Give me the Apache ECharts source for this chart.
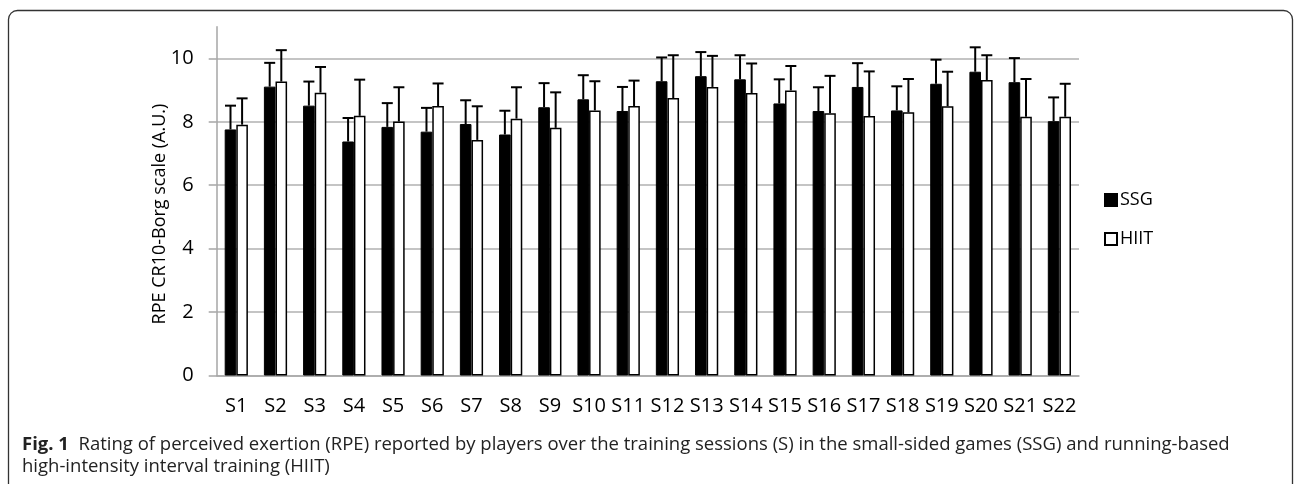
<!DOCTYPE html>
<html>
<head>
<meta charset="utf-8">
<script src="https://cdn.jsdelivr.net/npm/echarts@6/dist/echarts.min.js"></script>
<style>html,body{margin:0;padding:0;background:#fff;}#c{width:1295px;height:484px;}</style>
</head>
<body>
<div id="c"></div>
<script>
const categories = ['S1','S2','S3','S4','S5','S6','S7','S8','S9','S10','S11','S12','S13','S14','S15','S16','S17','S18','S19','S20','S21','S22'];
const ssgMean = [7.76,9.11,8.51,7.38,7.84,7.69,7.93,7.60,8.46,8.71,8.34,9.28,9.44,9.34,8.58,8.34,9.10,8.36,9.20,9.58,9.25,8.02];
const ssgSD   = [0.75,0.75,0.76,0.74,0.75,0.75,0.75,0.75,0.76,0.76,0.76,0.75,0.76,0.76,0.76,0.75,0.75,0.76,0.76,0.77,0.76,0.75];
const hiitMean = [7.91,9.27,8.92,8.19,8.01,8.50,7.43,8.10,7.81,8.36,8.50,8.75,9.10,8.91,8.99,8.27,8.18,8.30,8.49,9.32,8.16,8.16];
const hiitSD   = [0.83,0.99,0.81,1.14,1.08,0.71,1.06,0.99,1.12,0.92,0.80,1.35,0.98,0.93,0.77,1.18,1.41,1.05,1.09,0.78,1.19,1.04];
const yTicks = [0,2,4,6,8,10];
const yTitle = 'RPE CR10-Borg scale (A.U.)';

const BW = 11.6;
const font = 'Open Sans';

function errSeries(name, mean, sd, dir) {
  return {
    name: name,
    type: 'custom',
    z: 5,
    data: mean.map((m, i) => [i, m, sd[i]]),
    renderItem: function (params, api) {
      const i = api.value(0), m = api.value(1), s = api.value(2);
      const p0 = api.coord([i, m]);
      const p1 = api.coord([i, m + s]);
      const x = p0[0] + dir * BW / 2;
      const half = 5.5;
      return {
        type: 'group',
        children: [
          { type: 'line', shape: { x1: x, y1: p0[1], x2: x, y2: p1[1] }, style: { stroke: '#000', lineWidth: 2 } },
          { type: 'line', shape: { x1: x - half, y1: p1[1], x2: x + half, y2: p1[1] }, style: { stroke: '#000', lineWidth: 2 } }
        ]
      };
    }
  };
}

const chart = echarts.init(document.getElementById('c'));
chart.setOption({
  animation: false,
  textStyle: { fontFamily: font },
  grid: { left: 216.7, right: 216, top: 26.7, bottom: 108.5 },
  legend: {
    data: ['SSG', 'HIIT'],
    orient: 'vertical',
    left: 1099,
    top: 186,
    icon: 'rect',
    itemWidth: 12,
    itemHeight: 12,
    itemGap: 21,
    textStyle: { fontSize: 18, color: '#000', fontFamily: font, padding: [0, 0, 0, -2] }
  },
  xAxis: {
    type: 'category',
    data: categories,
    axisLine: { lineStyle: { color: '#a6a6a6', width: 1.5 } },
    axisTick: { length: 6, lineStyle: { color: '#a6a6a6', width: 1.5 } },
    axisLabel: { fontSize: 20, color: '#000', margin: 21, interval: 0, fontFamily: font }
  },
  yAxis: {
    type: 'value',
    min: 0,
    max: 11,
    interval: 2,
    axisLine: { show: true, lineStyle: { color: '#a6a6a6', width: 1.5 } },
    axisTick: { show: true, inside: false, length: 8, lineStyle: { color: '#a6a6a6', width: 1.5 } },
    axisLabel: {
      fontSize: 20, color: '#000', margin: 23, fontFamily: font, showMaxLabel: false,
      formatter: v => (yTicks.indexOf(v) >= 0 ? String(v) : '')
    },
    splitLine: { show: true, showMaxLine: false, lineStyle: { color: '#b0b0b0', width: 1.5 } }
  },
  series: [
    { name: 'SSG', type: 'bar', data: ssgMean, barWidth: BW, barGap: '0%', itemStyle: { color: '#000', borderColor: '#000', borderWidth: 1 } },
    { name: 'HIIT', type: 'bar', data: hiitMean, barWidth: BW, barGap: '0%', itemStyle: { color: '#fff', borderColor: '#000', borderWidth: 1.5 } },
    errSeries('SSG err', ssgMean, ssgSD, -1),
    errSeries('HIIT err', hiitMean, hiitSD, 1)
  ],
  graphic: [
    { type: 'rect', silent: true, shape: { x: 8.5, y: 10.5, width: 1284, height: 520, r: 9 }, style: { fill: 'none', stroke: '#333', lineWidth: 1.3 } },
    {
      type: 'text', x: 160, y: 214, rotation: Math.PI / 2,
      style: { text: yTitle, fill: '#000', font: '18px "Open Sans"', align: 'center', verticalAlign: 'middle' }
    },
    {
      type: 'text', left: 22, top: 434,
      style: {
        text: '{b|Fig. 1}  Rating of perceived exertion (RPE) reported by players over the training sessions (S) in the small-sided games (SSG) and running-based\nhigh-intensity interval training (HIIT)',
        fill: '#222',
        font: '18.5px "Open Sans"',
        lineHeight: 22,
        rich: { b: { fontWeight: 'bold', fontSize: 18.5, fontFamily: font, fill: '#222', lineHeight: 22 } }
      }
    }
  ]
});
</script>
</body>
</html>
